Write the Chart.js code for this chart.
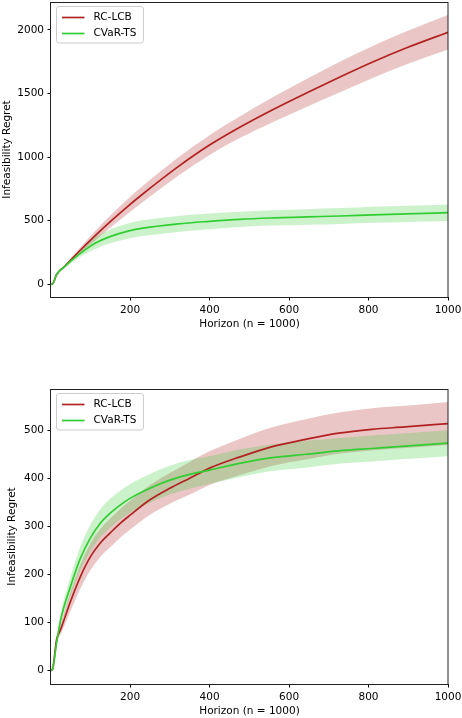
<!DOCTYPE html>
<html><head><meta charset="utf-8">
<script src="https://cdn.jsdelivr.net/npm/chart.js@4.4.1/dist/chart.umd.min.js"></script>
<style>
html,body{margin:0;padding:0;background:#fff;width:462px;height:718px;overflow:hidden}
#top{position:absolute;left:0;top:0}
#bot{position:absolute;left:0;top:360px}
</style></head><body>
<canvas id="top" width="462" height="340"></canvas>
<canvas id="bot" width="462" height="358"></canvas>
<script>
// ---------- data ----------
const seriesNames = ['RC-LCB', 'CVaR-TS'];
const xTicks = [200, 400, 600, 800, 1000];
const xTitle = 'Horizon (n = 1000)';
const yTitle = 'Infeasibility Regret';

// top panel
const topYTicks = [0, 500, 1000, 1500, 2000];
const topX       = [1, 5, 10, 14, 35, 69, 111, 153, 195, 228, 321, 400, 476, 560, 644, 728, 812, 896, 1000];
const topRcLcb   = [0, 3, 35, 71, 140, 250, 378, 500, 615, 700, 925, 1095, 1235, 1375, 1505, 1630, 1750, 1860, 1982];
const topRcLcbLo = [0, 3, 32, 66, 130, 230, 340, 452, 557, 637, 853, 1017, 1150, 1277, 1395, 1510, 1624, 1730, 1847];
const topRcLcbHi = [0, 3, 38, 76, 150, 270, 416, 548, 673, 763, 997, 1173, 1320, 1473, 1615, 1750, 1876, 1990, 2117];
const topCvarTs   = [0, 3, 35, 71, 138, 229, 321, 379, 418, 439, 475, 495, 511, 522, 530, 537, 546, 554, 563];
const topCvarTsLo = [0, 3, 32, 66, 126, 204, 275, 324, 358, 377, 412, 433, 451, 462, 469, 475, 483, 490, 498];
const topCvarTsHi = [0, 3, 38, 76, 150, 254, 367, 434, 478, 501, 538, 557, 571, 582, 591, 599, 609, 618, 628];

// bottom panel
const botYTicks = [0, 100, 200, 300, 400, 500];
const botX       = [1, 5, 15, 25, 50, 75, 100, 125, 150, 175, 200, 250, 300, 350, 400, 475, 558, 642, 725, 808, 892, 1000];
const botRcLcb   = [0, 3, 64, 85, 144, 196, 237, 266, 287, 307, 324, 356, 380, 401, 422, 445, 467, 482, 495, 503, 508, 515];
const botRcLcbLo = [0, 3, 59, 75, 124, 171, 209, 237, 257, 277, 294, 325, 348, 367, 387, 407, 427, 440, 452, 459, 464, 470];
const botRcLcbHi = [0, 3, 69, 95, 164, 221, 265, 295, 317, 337, 354, 387, 412, 435, 457, 483, 507, 524, 538, 547, 552, 560];
const botCvarTs   = [0, 3, 57, 105, 175, 234, 276, 307, 328, 345, 359, 380, 397, 409, 418, 432, 444, 451, 458, 463, 468, 474];
const botCvarTsLo = [0, 3, 52, 93, 155, 209, 248, 278, 298, 315, 329, 350, 367, 379, 389, 403, 416, 423, 431, 436, 441, 447];
const botCvarTsHi = [0, 3, 62, 117, 195, 259, 304, 336, 358, 375, 389, 410, 427, 439, 447, 461, 472, 479, 485, 490, 495, 501];

// ---------- style ----------
const RED = '#b22222', RED_FILL = 'rgba(178,34,34,0.26)';
const GREEN = '#32cd32', GREEN_FILL = 'rgba(50,205,50,0.25)';
const FONT = {family: '"DejaVu Sans", sans-serif', size: 10.5};

const pts = (xs, ys) => xs.map((x, i) => ({x: x, y: ys[i]}));

function band(xs, lo, hi, fill, order) {
  return [
    {label: '_lo', data: pts(xs, lo), borderWidth: 0, borderColor: 'rgba(0,0,0,0)', pointRadius: 0, fill: false, order: order, cubicInterpolationMode: 'monotone'},
    {label: '_hi', data: pts(xs, hi), borderWidth: 0, borderColor: 'rgba(0,0,0,0)', backgroundColor: fill, pointRadius: 0, fill: '-1', order: order, cubicInterpolationMode: 'monotone'}
  ];
}
function line(label, xs, ys, color, order) {
  return {label: label, inLegend: true, data: pts(xs, ys), borderColor: color, borderWidth: 1.7, pointRadius: 0, fill: false, order: order, cubicInterpolationMode: 'monotone'};
}

const framePlugin = {
  id: 'frame',
  afterDraw(chart) {
    const {ctx, chartArea: a} = chart;
    ctx.save();
    ctx.strokeStyle = '#222';
    ctx.lineWidth = 1;
    ctx.strokeRect(Math.round(a.left) - 0.5, Math.round(a.top) + 0.5, Math.round(a.right - a.left) + 0.5, Math.round(a.bottom - a.top));
    ctx.restore();
  }
};

const legendPlugin = {
  id: 'boxLegend',
  afterDraw(chart) {
    const items = chart.data.datasets.filter(d => d.inLegend);
    const {ctx, chartArea: a} = chart;
    ctx.save();
    ctx.font = '10.5px "DejaVu Sans"';
    const tw = Math.max(...items.map(d => ctx.measureText(d.label).width));
    const x0 = a.left + 5.5, y0 = a.top + 4.5;
    const w = 37 + tw + 7, h = 36.5, r = 2.5;
    ctx.beginPath();
    ctx.moveTo(x0 + r, y0);
    ctx.lineTo(x0 + w - r, y0); ctx.arcTo(x0 + w, y0, x0 + w, y0 + r, r);
    ctx.lineTo(x0 + w, y0 + h - r); ctx.arcTo(x0 + w, y0 + h, x0 + w - r, y0 + h, r);
    ctx.lineTo(x0 + r, y0 + h); ctx.arcTo(x0, y0 + h, x0, y0 + h - r, r);
    ctx.lineTo(x0, y0 + r); ctx.arcTo(x0, y0, x0 + r, y0, r);
    ctx.closePath();
    ctx.fillStyle = 'rgba(255,255,255,0.8)';
    ctx.fill();
    ctx.strokeStyle = '#cccccc';
    ctx.lineWidth = 1;
    ctx.stroke();
    items.forEach((d, i) => {
      const yy = y0 + 11 + i * 16;
      ctx.beginPath();
      ctx.moveTo(x0 + 5.5, yy); ctx.lineTo(x0 + 28, yy);
      ctx.strokeStyle = d.borderColor; ctx.lineWidth = 1.7; ctx.stroke();
      ctx.fillStyle = '#000';
      ctx.textBaseline = 'middle'; ctx.textAlign = 'left';
      ctx.fillText(d.label, x0 + 37, yy);
    });
    ctx.restore();
  }
};

function makeChart(id, cfg) {
  const datasets = [
    ...band(cfg.x, cfg.rLo, cfg.rHi, RED_FILL, 4),
    ...band(cfg.x, cfg.gLo, cfg.gHi, GREEN_FILL, 3),
    line(seriesNames[0], cfg.x, cfg.r, RED, 2),
    line(seriesNames[1], cfg.x, cfg.g, GREEN, 1)
  ];
  return new Chart(document.getElementById(id), {
    type: 'line',
    data: {datasets: datasets},
    plugins: [framePlugin, legendPlugin],
    options: {
      responsive: false,
      animation: false,
      devicePixelRatio: 1,
      layout: {padding: {top: cfg.padTop, right: 14, left: 0, bottom: 0}},
      plugins: {legend: {display: false}, tooltip: {enabled: false}},
      scales: {
        x: {
          type: 'linear', min: 1, max: 1000,
          afterBuildTicks: s => { s.ticks = xTicks.map(v => ({value: v})); },
          afterFit: s => { s.height = cfg.xAxisH; s.paddingLeft = 0; s.paddingRight = 0; },
          border: {display: false},
          grid: {drawOnChartArea: false, drawTicks: true, tickLength: 3.5, color: '#000', lineWidth: 1},
          ticks: {color: '#000', font: FONT, padding: 3, maxRotation: 0, autoSkip: false, callback: v => String(v)},
          title: {display: true, text: xTitle, color: '#000', font: FONT, padding: {top: 0, bottom: cfg.xTitlePad}}
        },
        y: {
          type: 'linear', min: cfg.yMin, max: cfg.yMax,
          afterBuildTicks: s => { s.ticks = cfg.yTicks.map(v => ({value: v})); },
          afterFit: s => { s.width = 51; s.paddingTop = 0; s.paddingBottom = 0; },
          border: {display: false},
          grid: {drawOnChartArea: false, drawTicks: true, tickLength: 3.5, color: '#000', lineWidth: 1},
          ticks: {color: '#000', font: FONT, padding: 3.5, autoSkip: false, callback: v => String(v)},
          title: {display: true, text: yTitle, color: '#000', font: FONT, padding: {top: cfg.yTitlePad, bottom: 0}}
        }
      }
    }
  });
}

makeChart('top', {
  x: topX, r: topRcLcb, rLo: topRcLcbLo, rHi: topRcLcbHi,
  g: topCvarTs, gLo: topCvarTsLo, gHi: topCvarTsHi,
  yMin: -100, yMax: 2220, yTicks: topYTicks,
  padTop: 2, xAxisH: 43, xTitlePad: 9, yTitlePad: 0.5
});
makeChart('bot', {
  x: botX, r: botRcLcb, rLo: botRcLcbLo, rHi: botRcLcbHi,
  g: botCvarTs, gLo: botCvarTsLo, gHi: botCvarTsHi,
  yMin: -28, yMax: 587, yTicks: botYTicks,
  padTop: 29, xAxisH: 34, xTitlePad: 0, yTitlePad: 6
});
</script>
</body></html>
